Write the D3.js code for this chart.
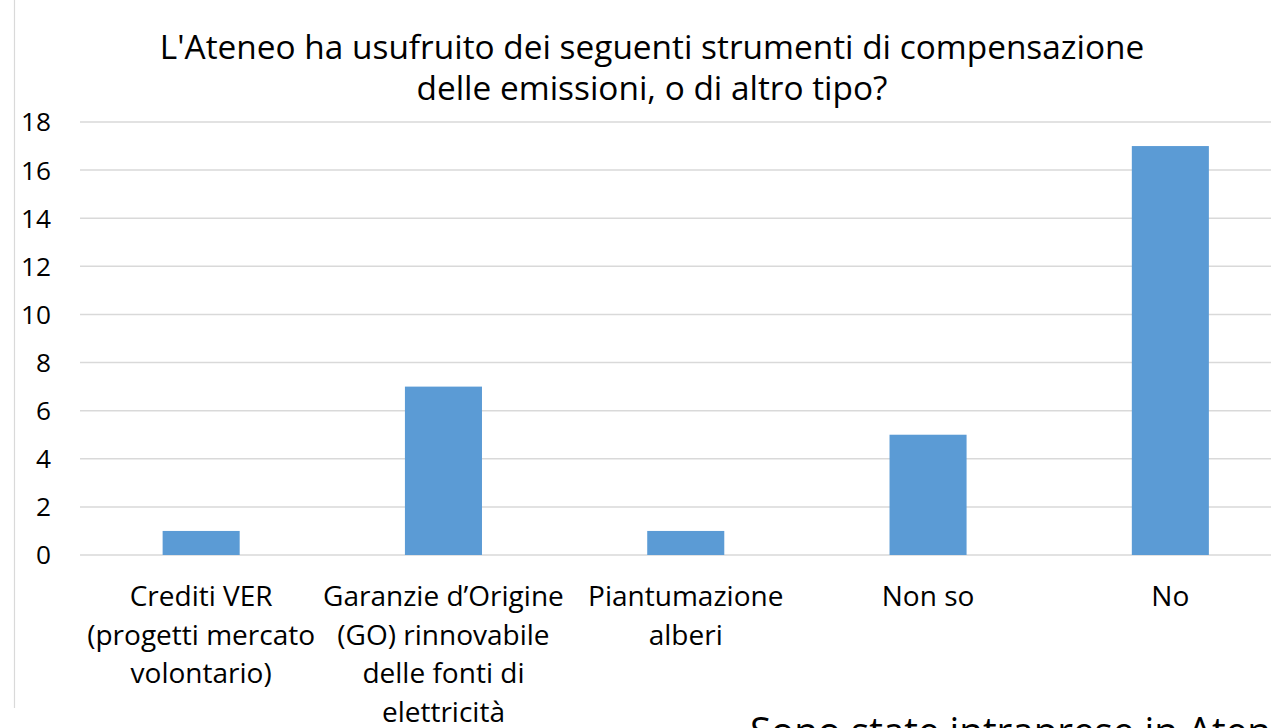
<!DOCTYPE html>
<html>
<head>
<meta charset="utf-8">
<script src="https://cdn.jsdelivr.net/npm/d3@7"></script>
<style>
  html, body { margin: 0; padding: 0; background: #fff; overflow: hidden; }
  svg { display: block; }
  text { font-family: "Open Sans", "Noto Sans", sans-serif; fill: #000; }
</style>
</head>
<body>
<svg id="chart" width="1271" height="728"></svg>
<script>
const titleLines = ["L'Ateneo ha usufruito dei seguenti strumenti di compensazione", "delle emissioni, o di altro tipo?"];
const categories = ["Crediti VER", "Garanzie d’Origine", "Piantumazione", "Non so", "No"];
const categoryLabelLines = [
  ["Crediti VER", "(progetti mercato", "volontario)"],
  ["Garanzie d’Origine", "(GO) rinnovabile", "delle fonti di", "elettricità"],
  ["Piantumazione", "alberi"],
  ["Non so"],
  ["No"]
];
const values = [1, 7, 1, 5, 17];
const yTicks = [0, 2, 4, 6, 8, 10, 12, 14, 16, 18];
const footerText = "Sono state intraprese in Ateneo";

const svg = d3.select("#chart");

// helper: font size so that a sample string reaches a target width
function fitSize(sample, targetWidth, base) {
  const t = svg.append("text").attr("font-size", base).text(sample);
  const w = t.node().getComputedTextLength();
  t.remove();
  return base * targetWidth / w;
}

const x = d3.scaleBand()
  .domain(categories)
  .range([80, 1291.5])
  .paddingInner(0.682)
  .paddingOuter(0.341);

const y = d3.scaleLinear().domain([0, 18]).range([555, 122]);

// chart area border (left edge visible)
svg.append("line")
  .attr("x1", 14.5).attr("x2", 14.5)
  .attr("y1", 0).attr("y2", 708)
  .attr("stroke", "#d9d9d9").attr("stroke-width", 1.2);

// gridlines
svg.append("g").selectAll("line").data(yTicks).join("line")
  .attr("x1", 80).attr("x2", 1291.5)
  .attr("y1", d => y(d)).attr("y2", d => y(d))
  .attr("stroke", "#d9d9d9").attr("stroke-width", 1.5);

// y axis labels
const yFont = fitSize("18", 30, 100);
svg.append("g").selectAll("text").data(yTicks).join("text")
  .attr("x", 51)
  .attr("y", d => y(d))
  .attr("dy", "0.36em")
  .attr("text-anchor", "end")
  .attr("font-size", yFont)
  .text(d => d);

// bars
svg.append("g").selectAll("rect").data(values).join("rect")
  .attr("x", (d, i) => x(categories[i]))
  .attr("width", x.bandwidth())
  .attr("y", d => y(d))
  .attr("height", d => y(0) - y(d))
  .attr("fill", "#5b9bd5");

// category labels
const catFont = fitSize("Crediti VER", 143, 100);
const catG = svg.append("g");
categoryLabelLines.forEach((lines, i) => {
  const cx = x(categories[i]) + x.bandwidth() / 2;
  catG.append("text")
    .attr("text-anchor", "middle")
    .attr("font-size", catFont)
    .selectAll("tspan").data(lines).join("tspan")
    .attr("x", cx)
    .attr("y", (d, j) => 606 + j * 38.7)
    .text(d => d);
});

// title
const titleFont = fitSize(titleLines[0], 985, 100);
svg.append("text")
  .attr("text-anchor", "middle")
  .attr("font-size", titleFont)
  .selectAll("tspan").data(titleLines).join("tspan")
  .attr("x", 652)
  .attr("y", (d, j) => 59 + j * 41)
  .text(d => d);

// footer text (cut off by page edge)
const footFont = fitSize("Sono state intraprese in Aten", 521, 100);
svg.append("text")
  .attr("x", 750)
  .attr("y", 718 + footFont * 0.714)
  .attr("font-size", footFont)
  .text(footerText);
</script>
</body>
</html>
